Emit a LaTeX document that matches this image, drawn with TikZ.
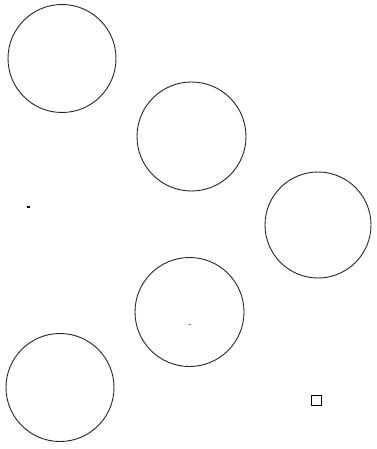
\documentclass[tikz,border=0pt]{standalone}
\begin{document}
\begin{tikzpicture}[x=1pt,y=-1pt,
  circ/.style={circle,draw=black!85,line width=0.9pt,minimum size=108pt,inner sep=0pt},
  dotmark/.style={fill=black,inner sep=0pt,minimum width=3pt,minimum height=2pt},
  smalldot/.style={fill=black!60,inner sep=0pt,minimum width=2pt,minimum height=1pt},
  sq/.style={draw=black,line width=0.7pt,minimum size=10pt,inner sep=0pt}]
\useasboundingbox[fill=white] (0,0) rectangle (376,449);
\node[circ] (c1) at (62,58.5) {};
\node[circ,minimum size=109pt] (c2) at (191.5,136.5) {};
\node[circ,minimum size=106pt] (c3) at (318,225) {};
\node[circ,minimum size=109pt] (c4) at (189.5,312) {};
\node[circ] (c5) at (60,387.5) {};
\node[dotmark] (d1) at (28,207) {};
\node[smalldot] (d2) at (190,324) {};
\node[sq] (s1) at (316.5,400.5) {};
\end{tikzpicture}
\end{document}
